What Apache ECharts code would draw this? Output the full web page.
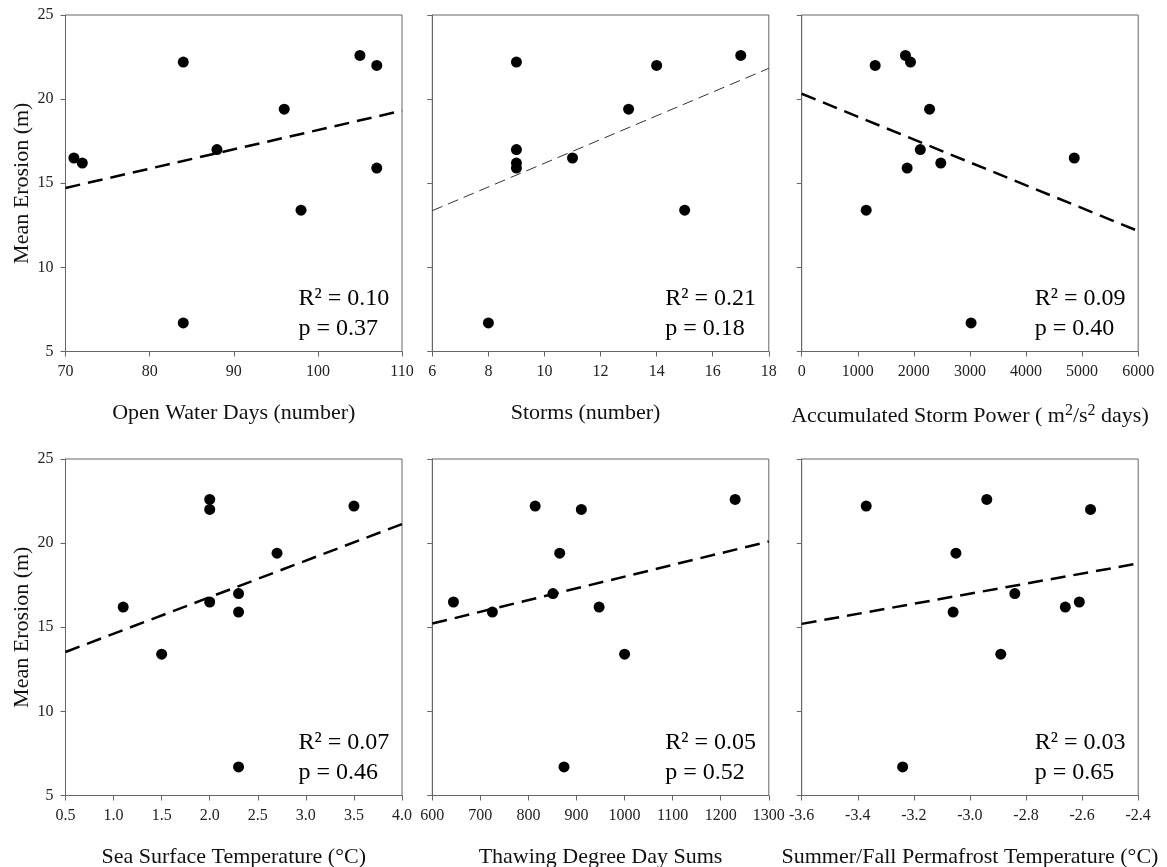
<!DOCTYPE html>
<html>
<head>
<meta charset="utf-8">
<title>Mean Erosion vs drivers</title>
<script src="https://cdn.jsdelivr.net/npm/echarts@6/dist/echarts.min.js"></script>
<style>
html, body { margin: 0; padding: 0; background: #fff; }
#main { width: 1167px; height: 867px; }
</style>
</head>
<body>
<div id="main"></div>
<script>
var myChart = echarts.init(document.getElementById('main'));

// mean erosion (m), same order for every panel
var erosion = [22.6, 22.2, 22.0, 19.4, 17.0, 16.5, 16.2, 15.9, 13.4, 6.7];

// x values of each driver
var openWaterDays = [105, 84, 107, 96, 88, 71, 72, 107, 98, 84];
var storms = [17, 9, 14, 13, 9, 11, 9, 9, 15, 8];
var stormPower = [1850, 1940, 1310, 2280, 2115, 4860, 2480, 1880, 1150, 3020];
var seaTemp = [2.0, 3.5, 2.0, 2.7, 2.3, 2.0, 1.1, 2.3, 1.5, 2.3];
var thawSums = [1230, 814, 910, 865, 851, 644, 947, 725, 1000, 874];
var permaTemp = [-2.94, -3.37, -2.57, -3.05, -2.84, -2.61, -2.66, -3.06, -2.89, -3.24];

// regression lines, ends at the axis limits
var trendX1 = [70, 110], trendY1 = [14.72, 19.31];
var trendX2 = [6, 18], trendY2 = [13.37, 21.83];
var trendX3 = [0, 6000], trendY3 = [20.32, 12.16];
var trendX4 = [0.5, 4.0], trendY4 = [13.53, 21.13];
var trendX5 = [600, 1300], trendY5 = [15.22, 20.10];
var trendX6 = [-3.6, -2.4], trendY6 = [15.20, 18.79];

var r2Labels = ['0.10', '0.21', '0.09', '0.07', '0.05', '0.03'];
var pLabels = ['0.37', '0.18', '0.40', '0.46', '0.52', '0.65'];

var xNames = [
	'Open Water Days (number)',
	'Storms (number)',
	'Accumulated Storm Power ( m{sup|2}/s{sup|2} days)',
	'Sea Surface Temperature (°C)',
	'Thawing Degree Day Sums',
	'Summer/Fall Permafrost Temperature (°C)'
];
var xMin = [70, 6, 0, 0.5, 600, -3.6];
var xMax = [110, 18, 6000, 4.0, 1300, -2.4];
var xStep = [10, 2, 1000, 0.5, 100, 0.2];
var xDigits = [0, 0, 0, 1, 0, 1];

var xData = [openWaterDays, storms, stormPower, seaTemp, thawSums, permaTemp];
var trends = [
	[trendX1, trendY1], [trendX2, trendY2], [trendX3, trendY3],
	[trendX4, trendY4], [trendX5, trendY5], [trendX6, trendY6]
];

var font = 'Liberation Serif, Times New Roman, serif';
var axisColor = '#666';
var gridLeft = [65.5, 432.3, 801.7];
var gridTop = [15, 459];
var gridSize = 336.5;

var grids = [], xAxes = [], yAxes = [], series = [], texts = [];

for (var i = 0; i < 6; i++) {
	var col = i % 3, row = Math.floor(i / 3);
	grids.push({
		left: gridLeft[col],
		top: gridTop[row],
		width: gridSize,
		height: gridSize,
		outerBoundsMode: 'none',
		containLabel: false,
		show: true,
		borderColor: axisColor,
		borderWidth: 1,
		backgroundColor: 'transparent'
	});
	(function (d) {
		xAxes.push({
			type: 'value',
			gridIndex: i,
			min: xMin[i],
			max: xMax[i],
			interval: xStep[i],
			name: xNames[i],
			nameLocation: 'middle',
			nameGap: 51,
			nameTextStyle: {
				fontFamily: font,
				fontSize: 22,
				color: '#111',
				padding: i == 1 ? [0, 30, 0, 0] : 0,
				rich: {
					sup: { fontFamily: font, fontSize: 16, color: '#111', padding: [0, 0, 12, 0] }
				}
			},
			axisLine: { onZero: false, lineStyle: { color: axisColor, width: 1 } },
			axisTick: { length: 5, lineStyle: { color: axisColor } },
			axisLabel: {
				margin: 12,
				fontFamily: font,
				fontSize: 16,
				color: '#222',
				showMinLabel: true,
				showMaxLabel: true,
				formatter: function (v) { return v.toFixed(d); }
			},
			splitLine: { show: false }
		});
	})(xDigits[i]);
	yAxes.push({
		type: 'value',
		gridIndex: i,
		min: 5,
		max: 25,
		interval: 5,
		name: col == 0 ? 'Mean Erosion (m)' : '',
		nameLocation: 'middle',
		nameGap: 31,
		nameTextStyle: { fontFamily: font, fontSize: 22, color: '#111' },
		axisLine: { show: true, onZero: false, lineStyle: { color: axisColor, width: 1 } },
		axisTick: { show: true, length: 5, lineStyle: { color: axisColor } },
		axisLabel: {
			show: col == 0,
			margin: 12,
			fontFamily: font,
			fontSize: 16,
			color: '#222'
		},
		splitLine: { show: false }
	});
	series.push({
		type: 'line',
		xAxisIndex: i,
		yAxisIndex: i,
		data: trends[i][0].map(function (x, k) { return [x, trends[i][1][k]]; }),
		showSymbol: false,
		symbol: 'none',
		silent: true,
		z: 2,
		lineStyle: i == 1
			? { color: '#333', width: 1, type: [11, 6] }
			: { color: '#000', width: 2.5, type: [15, 8] }
	});
	series.push({
		type: 'scatter',
		xAxisIndex: i,
		yAxisIndex: i,
		data: xData[i].map(function (x, k) { return [x, erosion[k]]; }),
		symbol: 'circle',
		symbolSize: 11,
		z: 3,
		itemStyle: { color: '#000', opacity: 1 }
	});
	texts.push({
		type: 'text',
		left: gridLeft[col] + 233,
		top: gridTop[row] + 269,
		style: {
			text: 'R² = ' + r2Labels[i] + '\np = ' + pLabels[i],
			font: '24px ' + font,
			fill: '#000',
			lineHeight: 30
		}
	});
}

var option = {
	backgroundColor: '#fff',
	animation: false,
	grid: grids,
	xAxis: xAxes,
	yAxis: yAxes,
	series: series,
	graphic: texts
};

myChart.setOption(option);
</script>
</body>
</html>
